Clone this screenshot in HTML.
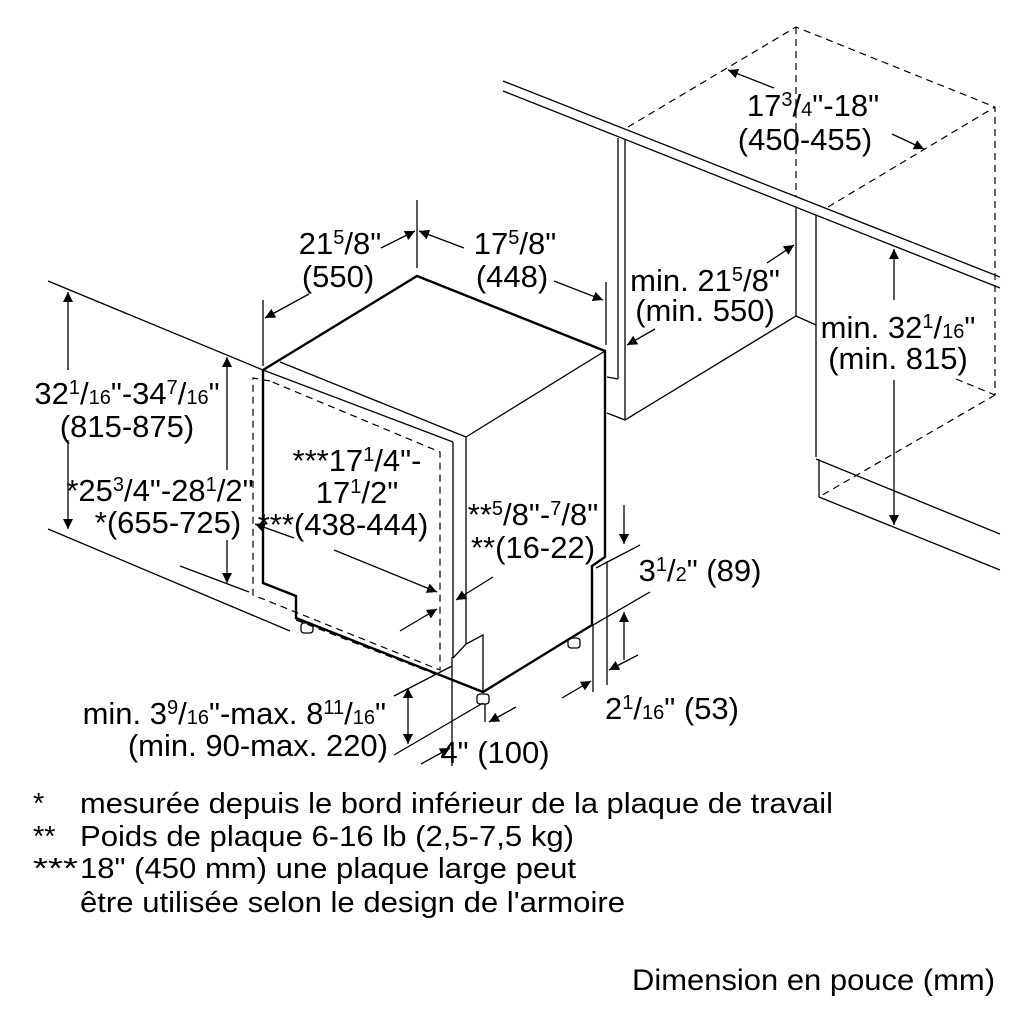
<!DOCTYPE html>
<html><head><meta charset="utf-8"><style>
html,body{margin:0;padding:0;background:#fff}
svg{display:block}
text{font-family:"Liberation Sans",Arial,sans-serif;fill:#000}
.t{font-size:31px}
.s{font-size:20px}
</style></head><body>
<svg width="1024" height="1024" viewBox="0 0 1024 1024" xmlns="http://www.w3.org/2000/svg">
<defs>
<marker id="a" viewBox="0 0 10 10" refX="10" refY="5" markerWidth="14" markerHeight="10" markerUnits="userSpaceOnUse" orient="auto">
<path d="M0,0 L10,5 L0,10 z" fill="#000"/></marker>
</defs>
<g stroke="#000" fill="none" stroke-width="1.3">
<line x1="503" y1="81" x2="1000" y2="277"/>
<line x1="503" y1="91" x2="1000" y2="288"/>
<line x1="618" y1="138" x2="618" y2="379"/>
<line x1="625" y1="140" x2="625" y2="420"/>
<polyline points="607,377 618,379"/>
<polyline points="607,413 625,420 796,316 816,325"/>
<line x1="796" y1="207" x2="796" y2="316"/>
<line x1="816" y1="215" x2="816" y2="457"/>
<line x1="816" y1="459" x2="1000" y2="534"/>
<line x1="819" y1="459" x2="819" y2="497"/>
<line x1="819" y1="497" x2="1000" y2="570"/>
</g>
<g stroke="#000" fill="none" stroke-width="1.2" stroke-dasharray="7,5">
<polyline points="628,127 796,27 995,107 995,395"/>
<line x1="796" y1="27" x2="796" y2="197"/>
<line x1="828" y1="207" x2="995" y2="107"/>
<line x1="995" y1="395" x2="819" y2="497"/>
<line x1="956" y1="379" x2="995" y2="395"/>
<polyline points="270,381 253,378 253,595 440,670 440,452 270,381"/>
<line x1="296" y1="620" x2="440" y2="676"/>
</g>
<g stroke="#000" fill="none" stroke-width="2.4" stroke-linejoin="miter">
<polyline points="263,370 417,276 605,351 605,557 592,566 592,625 483,692 296,618 296,596 263,583 263,370"/>
</g>
<g stroke="#000" fill="none" stroke-width="1.3">
<line x1="280" y1="362" x2="466" y2="437"/>
<line x1="263" y1="370" x2="453" y2="442"/>
<line x1="466" y1="437" x2="605" y2="351"/>
<line x1="466" y1="437" x2="466" y2="644"/>
<line x1="453" y1="442" x2="453" y2="658"/>
<polyline points="453,658 466,644 483,635 483,692"/>
<rect x="301" y="623" width="12" height="10" rx="3"/>
<rect x="568" y="638" width="12" height="10" rx="3"/>
<rect x="477" y="694" width="12" height="10" rx="3"/>
<line x1="48" y1="281" x2="263" y2="370"/>
<line x1="48" y1="529" x2="290" y2="631"/>
<line x1="180" y1="566" x2="249" y2="592"/>
<line x1="417" y1="200" x2="417" y2="268"/>
<line x1="263" y1="300" x2="263" y2="366"/>
<line x1="606" y1="282" x2="606" y2="345"/>
<line x1="596" y1="568" x2="640" y2="545"/>
<line x1="593" y1="625" x2="650" y2="592"/>
<line x1="607" y1="561" x2="607" y2="685"/>
<line x1="593" y1="625" x2="593" y2="692"/>
<line x1="394" y1="696" x2="452" y2="666"/>
<line x1="394" y1="755" x2="483" y2="703"/>
<line x1="452" y1="657" x2="452" y2="766"/>
<line x1="485" y1="704" x2="485" y2="722"/>
</g>
<g stroke="#000" fill="none" stroke-width="1.3" marker-end="url(#a)">
<line x1="68" y1="370" x2="68" y2="292"/>
<line x1="68" y1="440" x2="68" y2="529"/>
<line x1="227" y1="470" x2="227" y2="357"/>
<line x1="227" y1="540" x2="227" y2="583"/>
<line x1="381" y1="248" x2="415" y2="231"/>
<line x1="464" y1="248" x2="419" y2="231"/>
<line x1="309" y1="294" x2="265" y2="318"/>
<line x1="554" y1="281" x2="603" y2="300"/>
<line x1="774" y1="88" x2="728" y2="70"/>
<line x1="892" y1="134" x2="924" y2="149"/>
<line x1="767" y1="263" x2="794" y2="245"/>
<line x1="655" y1="329" x2="627" y2="345"/>
<line x1="894" y1="300" x2="894" y2="249"/>
<line x1="894" y1="380" x2="894" y2="525"/>
<line x1="294" y1="538" x2="255" y2="524"/>
<line x1="334" y1="550" x2="437" y2="592"/>
<line x1="400" y1="631" x2="437" y2="609"/>
<line x1="493" y1="577" x2="456" y2="600"/>
<line x1="624" y1="505" x2="624" y2="544"/>
<line x1="624" y1="660" x2="624" y2="612"/>
<line x1="638" y1="655" x2="609" y2="670"/>
<line x1="562" y1="698" x2="591" y2="681"/>
<line x1="408" y1="716" x2="408" y2="688"/>
<line x1="408" y1="716" x2="408" y2="744"/>
<line x1="421" y1="764" x2="450" y2="748"/>
<line x1="516" y1="707" x2="489" y2="722"/>
</g>
<g class="t" text-anchor="middle">
<text x="813" y="116">17<tspan class="s" dy="-10">3</tspan><tspan dy="10">/</tspan><tspan class="s">4</tspan>"-18"</text>
<text x="805" y="150">(450-455)</text>
<text x="340" y="254">21<tspan class="s" dy="-10">5</tspan><tspan dy="10">/8"</tspan></text>
<text x="338" y="287">(550)</text>
<text x="515" y="254">17<tspan class="s" dy="-10">5</tspan><tspan dy="10">/8"</tspan></text>
<text x="512" y="287">(448)</text>
<text x="705" y="291">min. 21<tspan class="s" dy="-10">5</tspan><tspan dy="10">/8"</tspan></text>
<text x="705" y="321">(min. 550)</text>
<text x="898" y="338">min. 32<tspan class="s" dy="-10">1</tspan><tspan dy="10">/</tspan><tspan class="s">16</tspan>"</text>
<text x="898" y="369">(min. 815)</text>
<text x="127" y="404">32<tspan class="s" dy="-10">1</tspan><tspan dy="10">/</tspan><tspan class="s">16</tspan>"-34<tspan class="s" dy="-10">7</tspan><tspan dy="10">/</tspan><tspan class="s">16</tspan>"</text>
<text x="127" y="437">(815-875)</text>
<text x="160" y="501">*25<tspan class="s" dy="-10">3</tspan><tspan dy="10">/4"-28</tspan><tspan class="s" dy="-10">1</tspan><tspan dy="10">/2"</tspan></text>
<text x="168" y="533">*(655-725)</text>
<text x="357" y="471">***17<tspan class="s" dy="-10">1</tspan><tspan dy="10">/4"-</tspan></text>
<text x="357" y="503">17<tspan class="s" dy="-10">1</tspan><tspan dy="10">/2"</tspan></text>
<text x="343" y="535">***(438-444)</text>
<text x="533" y="525">**<tspan class="s" dy="-10">5</tspan><tspan dy="10">/8"-</tspan><tspan class="s" dy="-10">7</tspan><tspan dy="10">/8"</tspan></text>
<text x="533" y="558">**(16-22)</text>
<text x="700" y="581">3<tspan class="s" dy="-10">1</tspan><tspan dy="10">/</tspan><tspan class="s">2</tspan>" (89)</text>
<text x="672" y="719">2<tspan class="s" dy="-10">1</tspan><tspan dy="10">/</tspan><tspan class="s">16</tspan>" (53)</text>
<text x="495" y="763">4" (100)</text>
</g>
<g class="t" text-anchor="end">
<text x="386" y="724">min. 3<tspan class="s" dy="-10">9</tspan><tspan dy="10">/</tspan><tspan class="s">16</tspan>"-max. 8<tspan class="s" dy="-10">11</tspan><tspan dy="10">/</tspan><tspan class="s">16</tspan>"</text>
<text x="388" y="756">(min. 90-max. 220)</text>
</g>
<text x="632" y="990" font-size="30" textLength="363" lengthAdjust="spacingAndGlyphs">Dimension en pouce (mm)</text>
<g font-size="29">
<text x="33" y="813">*</text>
<text x="80" y="813" textLength="753" lengthAdjust="spacingAndGlyphs">mesurée depuis le bord inférieur de la plaque de travail</text>
<text x="33" y="846">**</text>
<text x="80" y="846" textLength="494" lengthAdjust="spacingAndGlyphs">Poids de plaque 6-16 lb (2,5-7,5 kg)</text>
<text x="33" y="878" textLength="45" lengthAdjust="spacingAndGlyphs">***</text>
<text x="80" y="878" textLength="496" lengthAdjust="spacingAndGlyphs">18" (450 mm) une plaque large peut</text>
<text x="80" y="912" textLength="545" lengthAdjust="spacingAndGlyphs">être utilisée selon le design de l'armoire</text>
</g>
</svg>
</body></html>
